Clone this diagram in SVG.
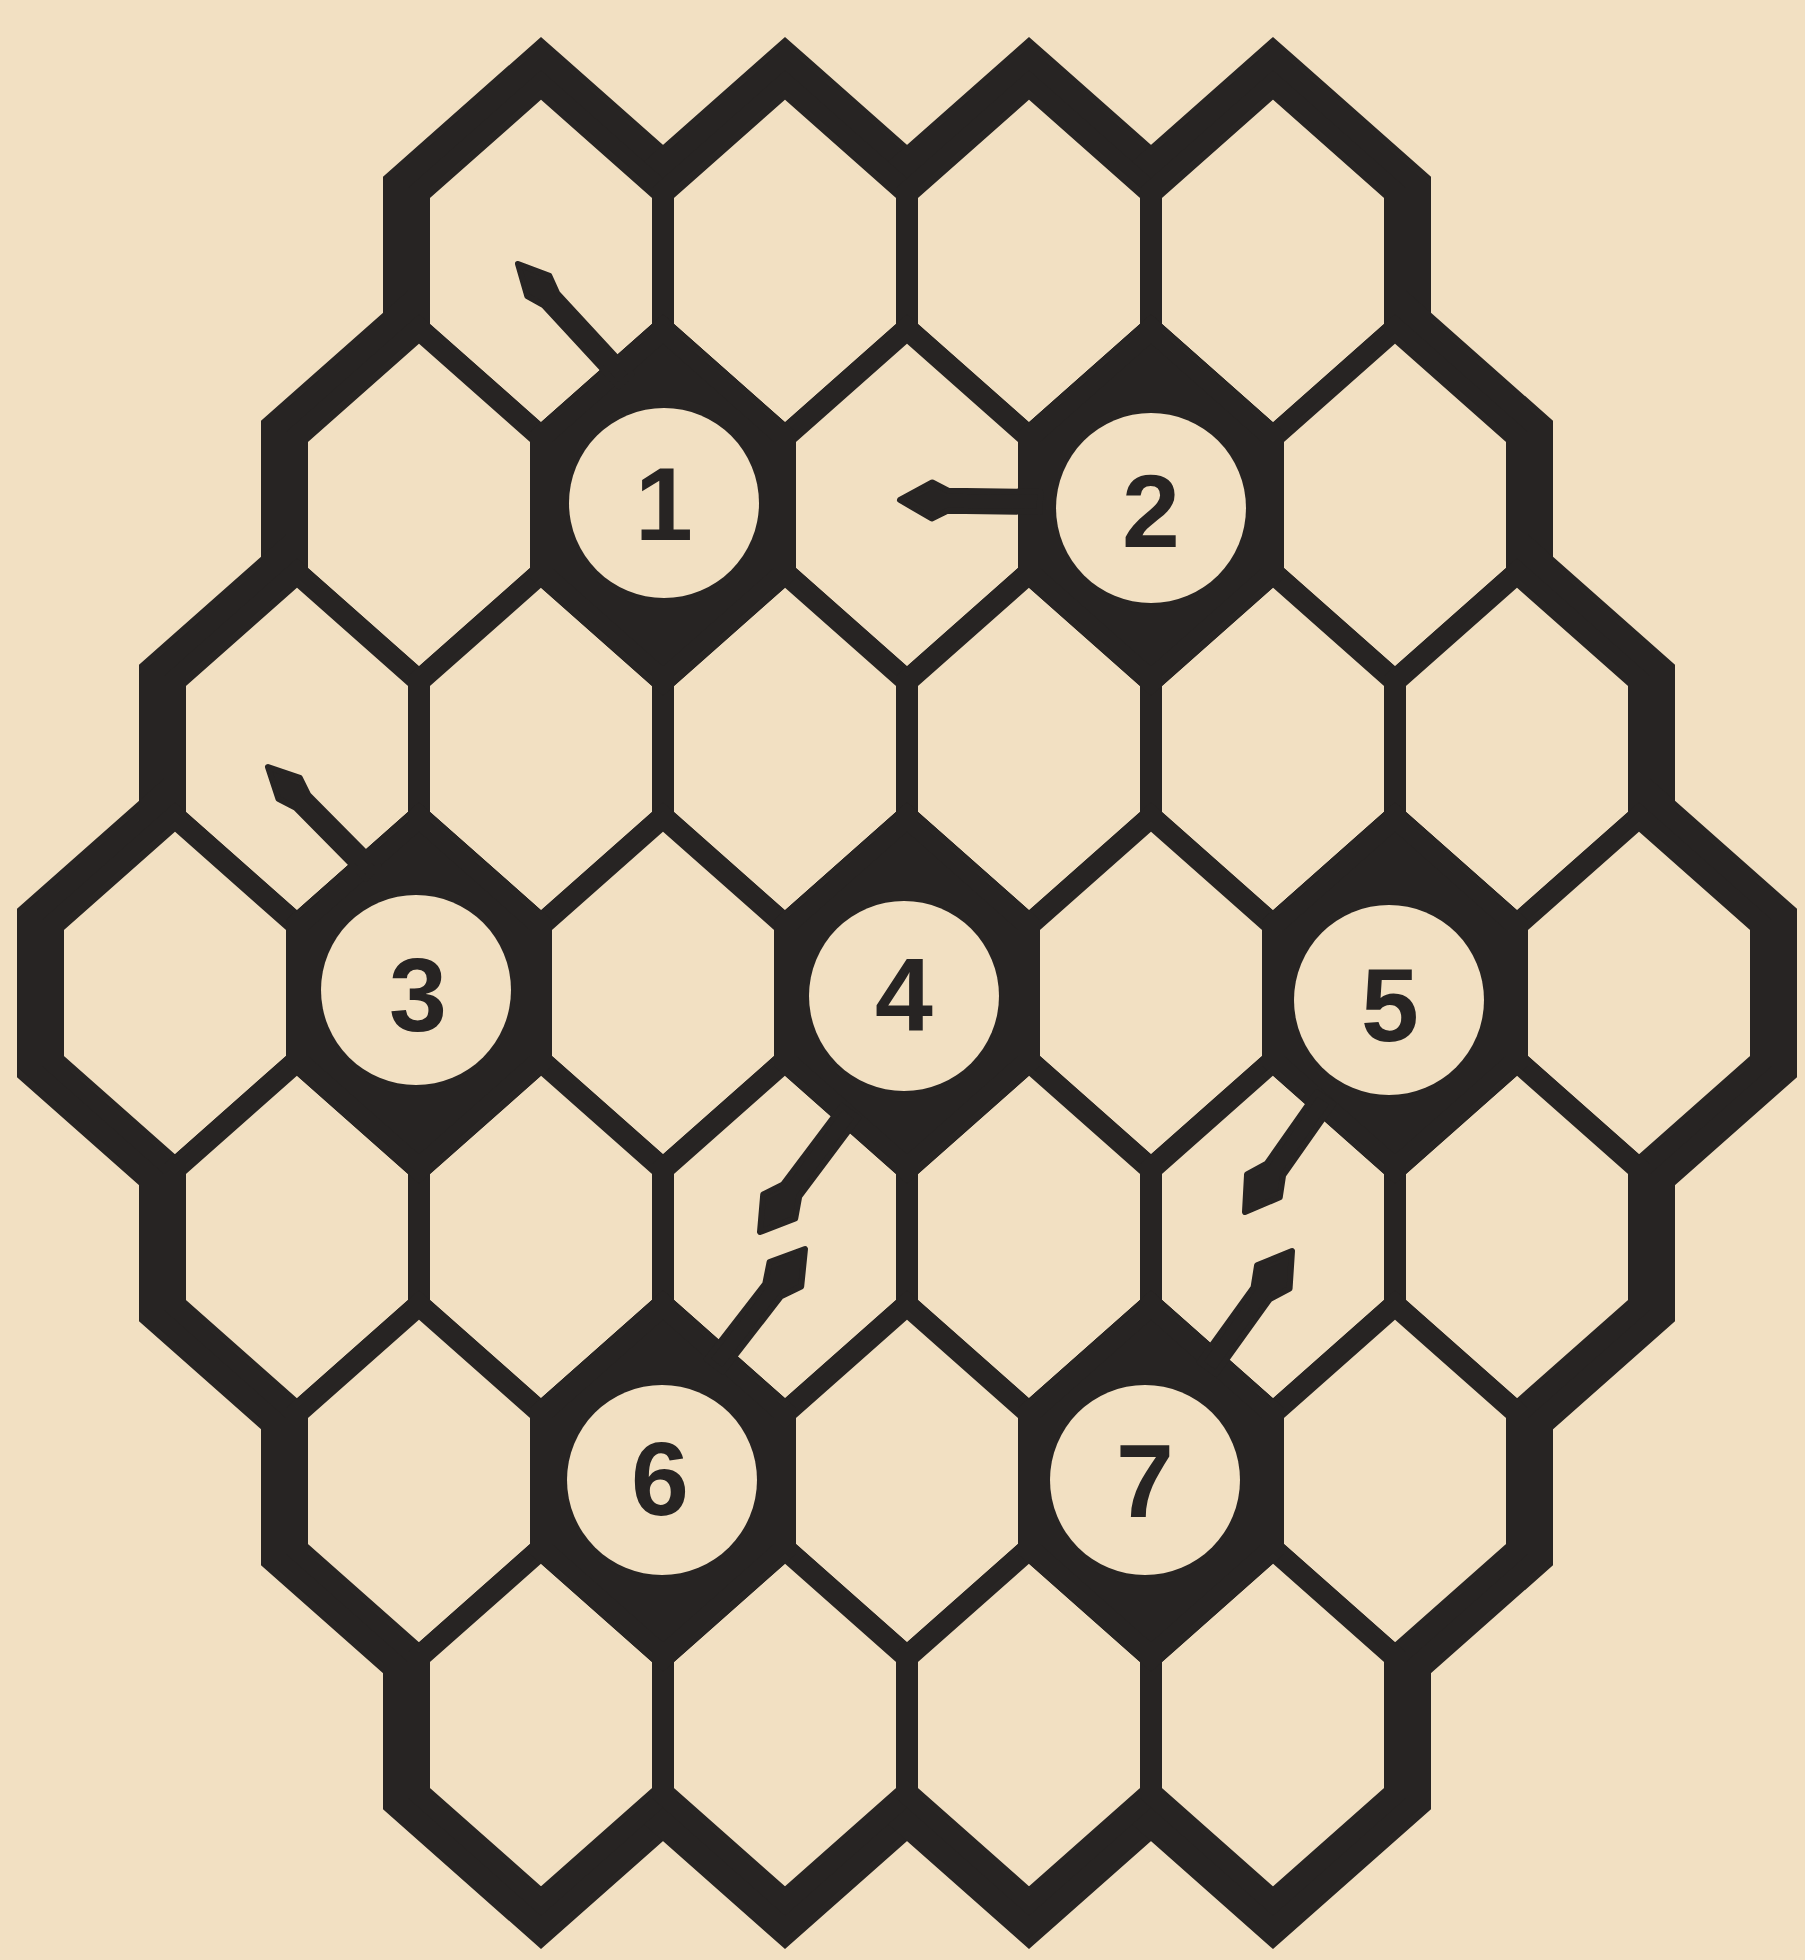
<svg xmlns="http://www.w3.org/2000/svg" xmlns:xlink="http://www.w3.org/1999/xlink" width="1805" height="1960" viewBox="0 0 1805 1960">
<defs>
<style>
.bg{fill:#f2e0c2}
.frame{fill:#272423;stroke:#272423;stroke-width:72;stroke-linejoin:miter}
.cell{fill:#f2e0c2;stroke:#272423;stroke-width:22;stroke-linejoin:miter}
.dark{fill:#272423;stroke:#272423;stroke-width:22;stroke-linejoin:miter}
.disc{fill:#f2e0c2}
.num{font-family:"Liberation Sans",Arial,sans-serif;font-weight:bold;font-size:104px;fill:#272423;text-anchor:middle}
.arrow{fill:#272423;stroke:#272423;stroke-width:6;stroke-linejoin:round}
</style>
<path id="hex" d="M0,-176 L122,-68 L122,68 L0,176 L-122,68 L-122,-68 Z"/>
</defs>
<rect class="bg" x="0" y="0" width="1805" height="1960"/>
<g id="frame" class="frame">
<use xlink:href="#hex" x="541" y="261"/><use xlink:href="#hex" x="785" y="261"/><use xlink:href="#hex" x="1029" y="261"/><use xlink:href="#hex" x="1273" y="261"/>
<use xlink:href="#hex" x="419" y="505"/><use xlink:href="#hex" x="663" y="505"/><use xlink:href="#hex" x="907" y="505"/><use xlink:href="#hex" x="1151" y="505"/><use xlink:href="#hex" x="1395" y="505"/>
<use xlink:href="#hex" x="297" y="749"/><use xlink:href="#hex" x="541" y="749"/><use xlink:href="#hex" x="785" y="749"/><use xlink:href="#hex" x="1029" y="749"/><use xlink:href="#hex" x="1273" y="749"/><use xlink:href="#hex" x="1517" y="749"/>
<use xlink:href="#hex" x="175" y="993"/><use xlink:href="#hex" x="419" y="993"/><use xlink:href="#hex" x="663" y="993"/><use xlink:href="#hex" x="907" y="993"/><use xlink:href="#hex" x="1151" y="993"/><use xlink:href="#hex" x="1395" y="993"/><use xlink:href="#hex" x="1639" y="993"/>
<use xlink:href="#hex" x="297" y="1237"/><use xlink:href="#hex" x="541" y="1237"/><use xlink:href="#hex" x="785" y="1237"/><use xlink:href="#hex" x="1029" y="1237"/><use xlink:href="#hex" x="1273" y="1237"/><use xlink:href="#hex" x="1517" y="1237"/>
<use xlink:href="#hex" x="419" y="1481"/><use xlink:href="#hex" x="663" y="1481"/><use xlink:href="#hex" x="907" y="1481"/><use xlink:href="#hex" x="1151" y="1481"/><use xlink:href="#hex" x="1395" y="1481"/>
<use xlink:href="#hex" x="541" y="1725"/><use xlink:href="#hex" x="785" y="1725"/><use xlink:href="#hex" x="1029" y="1725"/><use xlink:href="#hex" x="1273" y="1725"/>
</g>
<g id="cells" class="cell">
<use xlink:href="#hex" x="541" y="261"/><use xlink:href="#hex" x="785" y="261"/><use xlink:href="#hex" x="1029" y="261"/><use xlink:href="#hex" x="1273" y="261"/>
<use xlink:href="#hex" x="419" y="505"/><use xlink:href="#hex" x="663" y="505"/><use xlink:href="#hex" x="907" y="505"/><use xlink:href="#hex" x="1151" y="505"/><use xlink:href="#hex" x="1395" y="505"/>
<use xlink:href="#hex" x="297" y="749"/><use xlink:href="#hex" x="541" y="749"/><use xlink:href="#hex" x="785" y="749"/><use xlink:href="#hex" x="1029" y="749"/><use xlink:href="#hex" x="1273" y="749"/><use xlink:href="#hex" x="1517" y="749"/>
<use xlink:href="#hex" x="175" y="993"/><use xlink:href="#hex" x="419" y="993"/><use xlink:href="#hex" x="663" y="993"/><use xlink:href="#hex" x="907" y="993"/><use xlink:href="#hex" x="1151" y="993"/><use xlink:href="#hex" x="1395" y="993"/><use xlink:href="#hex" x="1639" y="993"/>
<use xlink:href="#hex" x="297" y="1237"/><use xlink:href="#hex" x="541" y="1237"/><use xlink:href="#hex" x="785" y="1237"/><use xlink:href="#hex" x="1029" y="1237"/><use xlink:href="#hex" x="1273" y="1237"/><use xlink:href="#hex" x="1517" y="1237"/>
<use xlink:href="#hex" x="419" y="1481"/><use xlink:href="#hex" x="663" y="1481"/><use xlink:href="#hex" x="907" y="1481"/><use xlink:href="#hex" x="1151" y="1481"/><use xlink:href="#hex" x="1395" y="1481"/>
<use xlink:href="#hex" x="541" y="1725"/><use xlink:href="#hex" x="785" y="1725"/><use xlink:href="#hex" x="1029" y="1725"/><use xlink:href="#hex" x="1273" y="1725"/>
</g>
<g id="node1"><use class="dark" xlink:href="#hex" x="663" y="505"/><circle class="disc" cx="664" cy="503" r="95"/><text class="num" x="664" y="540">1</text></g>
<g id="node2"><use class="dark" xlink:href="#hex" x="1151" y="505"/><circle class="disc" cx="1151" cy="508" r="95"/><text class="num" x="1151" y="547">2</text></g>
<g id="node3"><use class="dark" xlink:href="#hex" x="419" y="993"/><circle class="disc" cx="416" cy="990" r="95"/><text class="num" x="418" y="1031">3</text></g>
<g id="node4"><use class="dark" xlink:href="#hex" x="907" y="993"/><circle class="disc" cx="904" cy="996" r="95"/><text class="num" x="904" y="1031">4</text></g>
<g id="node5"><use class="dark" xlink:href="#hex" x="1395" y="993"/><circle class="disc" cx="1389" cy="1000" r="95"/><text class="num" x="1390" y="1041">5</text></g>
<g id="node6"><use class="dark" xlink:href="#hex" x="663" y="1481"/><circle class="disc" cx="662" cy="1480" r="95"/><text class="num" x="660" y="1515">6</text></g>
<g id="node7"><use class="dark" xlink:href="#hex" x="1151" y="1481"/><circle class="disc" cx="1145" cy="1480" r="95"/><text class="num" x="1145" y="1517">7</text></g>
<g id="connectors" class="arrow">
<path transform="translate(518,264) rotate(-132.7)" d="M-158,-9 L-48,-9 L-30,-15 L0,0 L-30,15 L-48,9 L-158,9 Z"/>
<path transform="translate(268,767) rotate(-134.7)" d="M-148,-9 L-48,-9 L-30,-15 L0,0 L-30,15 L-48,9 L-148,9 Z"/>
<path transform="translate(900,500) rotate(180.8)" d="M-140,-10 L-48,-10 L-32,-18 L0,0 L-32,18 L-48,10 L-140,10 Z"/>
<path transform="translate(760,1232) rotate(126.9)" d="M-150,-10 L-52,-10 L-32,-20 L0,0 L-32,20 L-52,10 L-150,10 Z"/>
<path transform="translate(805,1249) rotate(-52.2)" d="M-147,-10 L-52,-10 L-32,-20 L0,0 L-32,20 L-52,10 L-147,10 Z"/>
<path transform="translate(1245,1212) rotate(125.1)" d="M-139,-10 L-52,-10 L-32,-20 L0,0 L-32,20 L-52,10 L-139,10 Z"/>
<path transform="translate(1292,1251) rotate(-54.3)" d="M-144,-10 L-52,-10 L-32,-20 L0,0 L-32,20 L-52,10 L-144,10 Z"/>
</g>
</svg>
